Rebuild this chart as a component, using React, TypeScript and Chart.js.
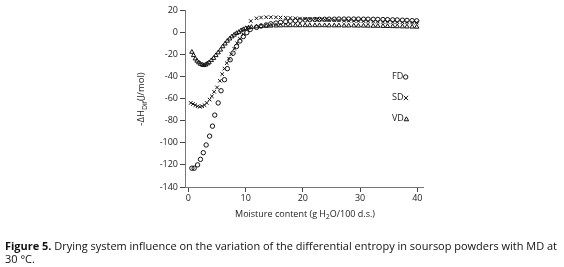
import React, { useEffect, useRef } from "react";
import { Chart, registerables } from "chart.js";
Chart.register(...registerables);

// ---- data ----
const xTicks = [0, 10, 20, 30, 40];
const yTicks = [20, 0, -20, -40, -60, -80, -100, -120, -140];

const plateauX = [11.9, 12.7, 13.6, 14.4, 15.3, 16.1, 17.0, 17.8, 18.7, 19.5, 20.4, 21.2, 22.1, 22.9, 23.8, 24.6, 25.5, 26.3, 27.2, 28.0, 28.9, 29.7, 30.6, 31.4, 32.3, 33.1, 34.0, 34.8, 35.7, 36.5, 37.4, 38.2, 39.1, 39.9];

const fdEarlyX = [0.6, 1.0, 1.6, 2.1, 2.6, 3.1, 3.7, 4.2, 4.6, 5.2, 5.7, 6.3, 6.8, 7.3, 7.8, 8.4, 9.0, 9.6, 10.2, 10.8];
const fdEarlyY = [-123, -123, -120, -115, -109, -102, -94, -85, -75, -64, -53, -43, -33, -25, -19, -13, -8, -4, -0.5, 2.4];
const fdPlateauY = [4.3, 5.5, 6.5, 7.5, 8.2, 8.8, 9.4, 9.9, 10.3, 10.7, 11.0, 11.2, 11.4, 11.5, 11.6, 11.7, 11.7, 11.8, 11.8, 11.8, 11.8, 11.8, 11.7, 11.7, 11.6, 11.5, 11.4, 11.3, 11.1, 11.0, 10.8, 10.6, 10.4, 10.2];

const sdEarlyX = [0.4, 0.8, 1.2, 1.6, 2.0, 2.4, 2.8, 3.2, 3.7, 4.1, 4.5, 5.0, 5.5, 5.9, 6.3, 6.7, 7.1, 7.5, 8.0, 8.5, 9.0, 9.6, 10.3, 10.9];
const sdEarlyY = [-64, -65, -66, -67, -67.5, -67, -66, -64, -61, -58, -54, -50, -44, -38, -33, -28, -24, -20, -15, -10, -6, -2, 4, 10];
const sdPlateauY = [12.5, 13.2, 13.5, 13.5, 13.4, 13.2, 13.0, 12.8, 12.5, 12.3, 12.0, 11.8, 11.6, 11.4, 11.2, 11.0, 10.8, 10.6, 10.4, 10.3, 10.1, 10.0, 9.9, 9.8, 9.6, 9.5, 9.4, 9.3, 9.1, 9.0, 8.9, 8.8, 8.7, 8.6];

const vdEarlyX = [0.6, 0.9, 1.2, 1.5, 1.8, 2.1, 2.4, 2.7, 3.0, 3.3, 3.6, 4.0, 4.4, 4.8, 5.2, 5.6, 6.0, 6.4, 6.8, 7.2, 7.6, 8.0, 8.4, 8.8, 9.2, 9.6, 10.0, 10.5, 11.0];
const vdEarlyY = [-18, -21, -24, -26, -27.5, -28.8, -29.5, -30, -29.5, -28.5, -27.5, -25.5, -23.5, -21, -18.5, -16, -13, -10.5, -8, -6, -4, -2.5, -1, 0, 1.5, 2.5, 3.3, 4, 4.5];
const vdPlateauY = [5.0, 5.3, 5.5, 5.7, 5.8, 5.9, 6.0, 6.0, 6.0, 6.0, 6.0, 6.0, 6.0, 6.0, 6.0, 5.9, 5.9, 5.9, 5.8, 5.8, 5.8, 5.7, 5.7, 5.6, 5.5, 5.5, 5.4, 5.3, 5.2, 5.1, 5.0, 4.9, 4.8, 4.7];

const seriesNames = ["FD", "SD", "VD"];

const toPts = (xs: number[], ys: number[]) => xs.map((x, i) => ({ x, y: ys[i] }));

const TICK_FONT = { family: "'Open Sans', 'DejaVu Sans', sans-serif", size: 9 };

function drawMarker(ctx: CanvasRenderingContext2D, style: string, x: number, y: number, r: number) {
  ctx.beginPath();
  if (style === "circle") {
    ctx.arc(x, y, r, 0, Math.PI * 2);
  } else if (style === "crossRot") {
    ctx.moveTo(x - r, y - r); ctx.lineTo(x + r, y + r);
    ctx.moveTo(x + r, y - r); ctx.lineTo(x - r, y + r);
  } else {
    ctx.moveTo(x, y - r); ctx.lineTo(x + r, y + r * 0.8); ctx.lineTo(x - r, y + r * 0.8); ctx.closePath();
  }
  ctx.stroke();
}

const overlayPlugin = {
  id: "overlay",
  afterDraw(chart: any) {
    const ctx: CanvasRenderingContext2D = chart.ctx;
    ctx.save();
    ctx.fillStyle = "#222";
    ctx.strokeStyle = "#111";
    ctx.lineWidth = 1;
    const fam = "'Open Sans', 'DejaVu Sans', sans-serif";

    // legend
    const styles = ["circle", "crossRot", "triangle"];
    const ly = [76, 97, 118];
    ctx.font = `9px ${fam}`;
    ctx.textBaseline = "middle";
    ctx.textAlign = "left";
    seriesNames.forEach((n, i) => {
      ctx.fillText(n, 392, ly[i]);
      const w = ctx.measureText(n).width;
      drawMarker(ctx, styles[i], 392 + w + 2.5, ly[i] + 1, 2.2);
    });

    // y-axis title with subscript
    ctx.save();
    ctx.translate(141, 99);
    ctx.rotate(-Math.PI / 2);
    const p1 = "-\u0394H", p2 = "Dif", p3 = "(J/mol)";
    ctx.font = `9.5px ${fam}`;
    const w1 = ctx.measureText(p1).width;
    const w3 = ctx.measureText(p3).width;
    ctx.font = `7px ${fam}`;
    const w2 = ctx.measureText(p2).width;
    let sx = -(w1 + w2 + w3) / 2;
    ctx.textAlign = "left";
    ctx.textBaseline = "alphabetic";
    ctx.font = `9.5px ${fam}`;
    ctx.fillText(p1, sx, 3);
    sx += w1;
    ctx.font = `7px ${fam}`;
    ctx.fillText(p2, sx, 5.5);
    sx += w2;
    ctx.font = `9.5px ${fam}`;
    ctx.fillText(p3, sx, 3);
    ctx.restore();

    // x-axis title with subscript
    const a = "Moisture content (g H", b = "2", c = "O/100 d.s.)";
    ctx.textBaseline = "alphabetic";
    ctx.font = `9px ${fam}`;
    const wa = ctx.measureText(a).width, wc = ctx.measureText(c).width;
    ctx.font = `6.5px ${fam}`;
    const wb = ctx.measureText(b).width;
    let xx = 305 - (wa + wb + wc) / 2;
    ctx.font = `9px ${fam}`;
    ctx.fillText(a, xx, 216.5); xx += wa;
    ctx.font = `6.5px ${fam}`;
    ctx.fillText(b, xx, 218.5); xx += wb;
    ctx.font = `9px ${fam}`;
    ctx.fillText(c, xx, 216.5);

    // caption (font size fitted to the reference line width)
    ctx.fillStyle = "#111";
    const bold = "Figure 5.";
    const rest = " Drying system influence on the variation of the differential entropy in soursop powders with MD at";
    const base = 10;
    ctx.font = `bold ${base}px ${fam}`;
    const wbold0 = ctx.measureText(bold).width;
    ctx.font = `${base}px ${fam}`;
    const wrest0 = ctx.measureText(rest).width;
    const fs = Math.min(11.5, (base * 553) / (wbold0 + wrest0));
    ctx.font = `bold ${fs}px ${fam}`;
    const wbold = ctx.measureText(bold).width;
    ctx.fillText(bold, 5, 250);
    ctx.font = `${fs}px ${fam}`;
    ctx.fillText(rest, 5 + wbold, 250);
    ctx.fillText("30 \u00B0C.", 5, 263);
    ctx.restore();
  },
};

export default function App() {
  const ref = useRef<HTMLCanvasElement | null>(null);
  useEffect(() => {
    if (!ref.current) return;
    const common = {
      showLine: false,
      borderColor: "#111",
      backgroundColor: "rgba(0,0,0,0)",
      borderWidth: 1,
      pointRadius: 2.2,
    };
    const chart = new Chart(ref.current, {
      type: "scatter",
      data: {
        datasets: [
          { ...common, label: seriesNames[0], pointStyle: "circle", data: toPts([...fdEarlyX, ...plateauX], [...fdEarlyY, ...fdPlateauY]) },
          { ...common, label: seriesNames[1], pointStyle: "crossRot", pointRadius: 2.5, data: toPts([...sdEarlyX, ...plateauX], [...sdEarlyY, ...sdPlateauY]) },
          { ...common, label: seriesNames[2], pointStyle: "triangle", pointRadius: 2.5, data: toPts([...vdEarlyX, ...plateauX], [...vdEarlyY, ...vdPlateauY]) },
        ],
      },
      options: {
        animation: false,
        responsive: false,
        maintainAspectRatio: false,
        layout: { padding: { left: 0, right: 141, top: 10, bottom: 55 } },
        plugins: { legend: { display: false }, tooltip: { enabled: false } },
        scales: {
          x: {
            type: "linear",
            min: -0.6,
            max: 41,
            afterBuildTicks: (s: any) => { s.ticks = xTicks.map((v) => ({ value: v })); },
            afterFit: (s: any) => { s.height = 25; },
            grid: { drawOnChartArea: false, drawTicks: true, tickLength: 5, color: "#444" },
            border: { color: "#777", width: 1 },
            ticks: { font: TICK_FONT, color: "#222", padding: 1, maxRotation: 0 },
          },
          y: {
            type: "linear",
            min: -140,
            max: 20,
            afterBuildTicks: (s: any) => { s.ticks = yTicks.map((v) => ({ value: v })); },
            afterFit: (s: any) => { s.width = 185; },
            grid: { drawOnChartArea: false, drawTicks: true, tickLength: 5, color: "#444" },
            border: { color: "#777", width: 1 },
            ticks: { font: TICK_FONT, color: "#222", padding: 2 },
          },
        },
      },
      plugins: [overlayPlugin],
    } as any);
    return () => chart.destroy();
  }, []);
  return (
    <div style={{ position: "absolute", left: 0, top: 0, width: 564, height: 267, background: "#fff" }}>
      <canvas ref={ref} width={564} height={267} style={{ width: 564, height: 267, display: "block" }} />
    </div>
  );
}
